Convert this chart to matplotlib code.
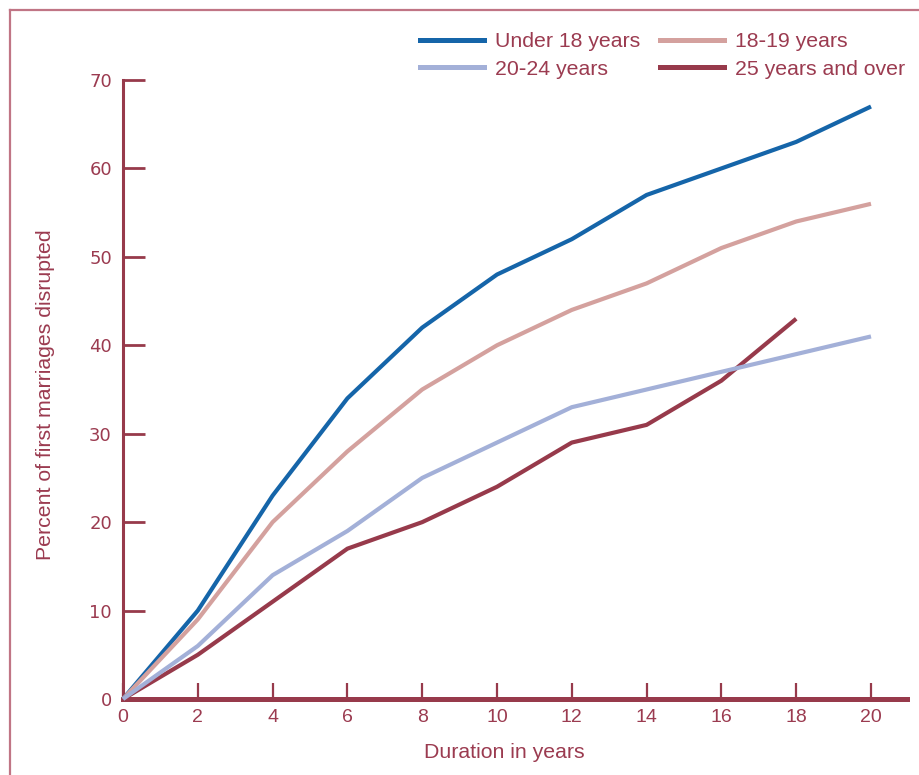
import matplotlib
matplotlib.use("Agg")
import matplotlib.pyplot as plt
from matplotlib.lines import Line2D

years = [0, 2, 4, 6, 8, 10, 12, 14, 16, 18, 20]
under18 = [0, 10, 23, 34, 42, 48, 52, 57, 60, 63, 67]
age18_19 = [0, 9, 20, 28, 35, 40, 44, 47, 51, 54, 56]
age20_24 = [0, 6, 14, 19, 25, 29, 33, 35, 37, 39, 41]
years25 = [0, 2, 4, 6, 8, 10, 12, 14, 16, 18]
age25plus = [0, 5, 11, 17, 20, 24, 29, 31, 36, 43]

labels = ["Under 18 years", "18\u201119 years", "20\u201124 years", "25 years and over"]
xticks = [0, 2, 4, 6, 8, 10, 12, 14, 16, 18, 20]
yticks = [0, 10, 20, 30, 40, 50, 60, 70]

TXT = "#9b3b50"
AX = "#973a4b"
C_U18 = "#1565a9"
C_1819 = "#d4a19e"
C_2024 = "#a3b0d8"
C_25 = "#973a4b"
BORDER = "#c07585"

sans = ["Liberation Sans", "DejaVu Sans"]
wide = ["DejaVu Sans"]

W, H = 919, 775
fig = plt.figure(figsize=(W / 100, H / 100), dpi=100)
x0, x1 = 123, 907
y0, y1 = 699, 80
ax = fig.add_axes([x0 / W, 1 - y0 / H, (x1 - x0) / W, (y0 - y1) / H])
xmax = (x1 - x0) / ((871 - 123) / 20)
ax.set_xlim(0, xmax)
ax.set_ylim(0, 70)

# frame lines of figure
fig.add_artist(Line2D([10 / W, 10 / W], [0, 1 - 10 / H], color=BORDER, lw=1.6))
fig.add_artist(Line2D([10 / W, 1], [1 - 10 / H, 1 - 10 / H], color=BORDER, lw=1.6))

lw = 3.0
ax.plot(years, under18, color=C_U18, lw=lw, clip_on=False, zorder=5, solid_capstyle="butt")
ax.plot(years, age18_19, color=C_1819, lw=lw, clip_on=False, zorder=5, solid_capstyle="butt")
ax.plot(years25, age25plus, color=C_25, lw=lw, clip_on=False, zorder=5, solid_capstyle="butt")
ax.plot(years, age20_24, color=C_2024, lw=lw, clip_on=False, zorder=6, solid_capstyle="butt")

for s in ["top", "right"]:
    ax.spines[s].set_visible(False)
ax.spines["bottom"].set_color(AX)
ax.spines["bottom"].set_linewidth(3.6)
ax.spines["left"].set_color(AX)
ax.spines["left"].set_linewidth(2.2)
ax.spines["bottom"].set_zorder(4)
ax.spines["left"].set_zorder(4)

ax.set_xticks(xticks)
ax.set_yticks(yticks)
ax.tick_params(axis="x", direction="in", length=11.5, width=1.6, color=AX,
               labelcolor=TXT, pad=7.5)
ax.tick_params(axis="y", direction="in", length=16, width=2.0, color=AX,
               labelcolor=TXT, pad=8)
for t in ax.get_xticklabels():
    t.set_family(sans)
    t.set_fontsize(14)
for t in ax.get_yticklabels():
    t.set_family(wide)
    t.set_fontsize(13)

fig.text(504 / W, 1 - 752 / H, "Duration in years", color=TXT, family=sans,
         fontsize=15.3, ha="center", va="center")
fig.text(46 / W, 1 - 395 / H, "Percent of first marriages disrupted", color=TXT,
         family=sans, fontsize=15.3, ha="center", va="center", rotation=90)

handles = [Line2D([], [], color=C_U18, lw=3.6),
           Line2D([], [], color=C_2024, lw=3.6),
           Line2D([], [], color=C_1819, lw=3.6),
           Line2D([], [], color=C_25, lw=3.6)]
leg_labels = [labels[0], labels[2], labels[1], labels[3]]
leg = fig.legend(handles, leg_labels, ncol=2, frameon=False,
                 loc="upper left", bbox_to_anchor=(420 / W, 1 - 32 / H),
                 handlelength=3.0, handletextpad=0.52,
                 columnspacing=0.94, labelspacing=0.42, borderpad=0, borderaxespad=0,
                 prop={"family": sans, "size": 15.3})
for t in leg.get_texts():
    t.set_color(TXT)

fig.savefig("out.png", dpi=100, facecolor="white")
